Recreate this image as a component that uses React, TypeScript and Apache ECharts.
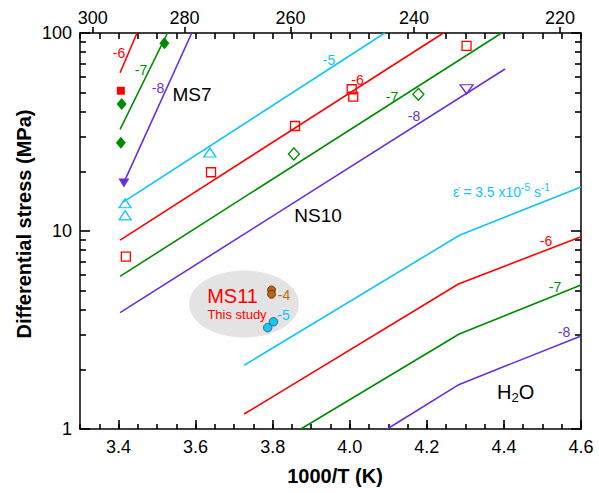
import React, { useEffect, useRef } from 'react';
import * as echarts from 'echarts';

// ---------- axes ----------
const X_MIN = 3.3;
const X_MAX = 4.6;
const xMajorTicks = [3.4, 3.6, 3.8, 4.0, 4.2, 4.4, 4.6];
const topTempsK = [300, 280, 260, 240, 220];
const Y_MIN = 1;
const Y_MAX = 100;
const yMinorTicks = [2, 3, 4, 5, 6, 7, 8, 9, 20, 30, 40, 50, 60, 70, 80, 90];

// ---------- MS7 (steep lines, filled symbols) ----------
const ms7Line6 = [[3.404, 63], [3.448, 100]];
const ms7Line7 = [[3.404, 32.6], [3.527, 100]];
const ms7Line8 = [[3.414, 17.6], [3.59, 100]];
const ms7Red = [[3.406, 51.1]];
const ms7Green = [[3.408, 43.8], [3.406, 27.9], [3.519, 88.7]];
const ms7Purple = [[3.414, 17.5]];

// ---------- NS10 ----------
const ns10Line5 = [[3.412, 14.0], [4.091, 100]];
const ns10Line6 = [[3.404, 9.0], [4.243, 100]];
const ns10Line7 = [[3.404, 5.9], [4.394, 100]];
const ns10Line8 = [[3.404, 3.87], [4.403, 65.8]];
const ns10Cyan = [[3.637, 24.9], [3.417, 13.8], [3.417, 12.0]];
const ns10Red = [[3.64, 19.8], [3.858, 33.9], [4.005, 52], [4.009, 47.7], [4.303, 86], [3.419, 7.42]];
const ns10Green = [[3.855, 24.5], [4.178, 49]];
const ns10Purple = [[4.303, 52]];

// ---------- H2O ----------
const h2oLine5 = [[3.726, 2.1], [4.286, 9.55], [4.6, 16.7]];
const h2oLine6 = [[3.726, 1.19], [4.282, 5.4], [4.6, 9.36]];
const h2oLine7 = [[3.873, 1.0], [4.284, 3.02], [4.6, 5.34]];
const h2oLine8 = [[4.097, 1.0], [4.284, 1.68], [4.6, 2.95]];

// ---------- MS11 (this study) ----------
const ms11Brown = [[3.797, 5.04], [3.797, 4.79]];
const ms11Cyan = [[3.802, 3.48], [3.787, 3.25]];

const RED = '#ff0000';
const GREEN = '#008a00';
const PURPLE = '#6a2ed8';
const CYAN = '#10c4f4';
const BROWN = '#c8680e';
const FONT = '"Liberation Sans", Arial, Helvetica, sans-serif';

const AX = { color: '#000', width: 1.5 };
const TK = { color: '#000', width: 1.6 };

function lineSeries(data: number[][], color: string) {
  return {
    type: 'line',
    data,
    showSymbol: false,
    symbol: 'none',
    lineStyle: { color, width: 1.6 },
    z: 3,
  };
}

function scatterSeries(
  data: number[][],
  symbol: string,
  size: number | number[],
  color: string,
  filled: boolean,
  rotate = 0,
  border?: string
) {
  return {
    type: 'scatter',
    data,
    symbol,
    symbolSize: size,
    symbolRotate: rotate,
    itemStyle: filled
      ? { color, borderColor: border || color, borderWidth: border ? 0.8 : 0, opacity: 1 }
      : { color: 'rgba(255,255,255,0)', borderColor: color, borderWidth: 1.3, opacity: 1 },
    z: 5,
  };
}

const textLabels = [
  { t: '-6', x: 119, y: 53, c: RED, s: 14 },
  { t: '-7', x: 141, y: 69.5, c: GREEN, s: 14 },
  { t: '-8', x: 158, y: 88, c: PURPLE, s: 14 },
  { t: 'MS7', x: 192, y: 94.5, c: '#000', s: 19 },
  { t: '-5', x: 329, y: 59.5, c: CYAN, s: 14 },
  { t: '-6', x: 357.5, y: 80, c: RED, s: 14 },
  { t: '-7', x: 392, y: 96.7, c: GREEN, s: 14 },
  { t: '-8', x: 414, y: 116, c: PURPLE, s: 14 },
  { t: 'NS10', x: 318, y: 215, c: '#000', s: 19 },
  { t: 'MS11', x: 232.5, y: 296, c: RED, s: 20 },
  { t: 'This study', x: 237, y: 314.5, c: RED, s: 13 },
  { t: '-4', x: 284, y: 294.5, c: BROWN, s: 14 },
  { t: '-5', x: 283.5, y: 314.7, c: CYAN, s: 14 },
  { t: '-6', x: 546, y: 241, c: RED, s: 14 },
  { t: '-7', x: 555, y: 287, c: GREEN, s: 14 },
  { t: '-8', x: 564, y: 331.7, c: PURPLE, s: 14 },
];

export default function App() {
  const ref = useRef<HTMLDivElement>(null);

  useEffect(() => {
    document.body.style.margin = '0';
    if (!ref.current) return;
    const chart = echarts.init(ref.current, undefined, { renderer: 'svg' });

    const xBase = {
      type: 'value',
      min: X_MIN,
      max: X_MAX,
      splitLine: { show: false },
    };
    const yBase = {
      type: 'log',
      logBase: 10,
      min: Y_MIN,
      max: Y_MAX,
      splitLine: { show: false },
      minorTick: { show: false },
    };
    // linear axis in log10 units, used only to place the minor ticks of the log scale
    const yLogUnits = {
      type: 'value',
      min: Math.log10(Y_MIN),
      max: Math.log10(Y_MAX),
      splitLine: { show: false },
    };
    const minorLog = yMinorTicks.map((v) => Math.log10(v));
    const noLine = { show: true, onZero: false, lineStyle: { color: 'rgba(0,0,0,0)', width: 0 } };

    const graphics: any[] = [
      {
        type: 'ellipse',
        shape: { cx: 244, cy: 304, rx: 55, ry: 33.5 },
        style: { fill: '#e3e3e3' },
        z: 1,
        silent: true,
      },
      ...textLabels.map((l) => ({
        type: 'text',
        x: l.x,
        y: l.y,
        z: 20,
        style: {
          text: l.t,
          fill: l.c,
          fontSize: l.s,
          fontFamily: FONT,
          align: 'center',
          verticalAlign: 'middle',
          textAlign: 'center',
          textVerticalAlign: 'middle',
        },
      })),
      {
        type: 'text',
        x: 497,
        y: 392,
        z: 20,
        style: {
          text: '{a|H}{b|2}{a|O}',
          align: 'left',
          verticalAlign: 'middle',
          textAlign: 'left',
          textVerticalAlign: 'middle',
          rich: {
            a: { fontSize: 20, fontFamily: FONT, fill: '#000' },
            b: { fontSize: 13, fontFamily: FONT, fill: '#000', padding: [10, 0, 0, 0] },
          },
        },
      },
      {
        type: 'text',
        x: 453,
        y: 192,
        z: 20,
        style: {
          text: '{e|\u03B5\u0307 = 3.5 x10}{s|-5}{e| s}{s|-1}',
          align: 'left',
          verticalAlign: 'middle',
          textAlign: 'left',
          textVerticalAlign: 'middle',
          rich: {
            e: { fontSize: 14, fontFamily: FONT, fill: CYAN },
            s: { fontSize: 10, fontFamily: FONT, fill: CYAN, padding: [0, 0, 10, 0] },
          },
        },
      },
      {
        type: 'text',
        x: 24,
        y: 224,
        rotation: Math.PI / 2,
        z: 20,
        style: {
          text: 'Differential stress (MPa)',
          fontSize: 20,
          fontWeight: 'bold',
          fontFamily: FONT,
          fill: '#000',
          align: 'center',
          verticalAlign: 'middle',
          textAlign: 'center',
          textVerticalAlign: 'middle',
        },
      },
      {
        type: 'text',
        x: 335,
        y: 476,
        z: 20,
        style: {
          text: '1000/T (K)',
          fontSize: 20,
          fontWeight: 'bold',
          fontFamily: FONT,
          fill: '#000',
          align: 'center',
          verticalAlign: 'middle',
          textAlign: 'center',
          textVerticalAlign: 'middle',
        },
      },
    ];

    const option: any = {
      animation: false,
      backgroundColor: '#fff',
      grid: {
        left: 80,
        right: 18,
        top: 33,
        bottom: 64,
        outerBoundsMode: 'none',
      },
      xAxis: [
        {
          ...xBase,
          position: 'bottom',
          axisLine: { show: true, onZero: false, lineStyle: AX },
          axisTick: { show: true, inside: true, length: 9, customValues: xMajorTicks, lineStyle: TK },
          axisLabel: {
            show: true,
            customValues: xMajorTicks,
            formatter: (v: number) => v.toFixed(1),
            fontSize: 18,
            fontFamily: FONT,
            color: '#000',
            margin: 9,
          },
        },
        {
          ...xBase,
          position: 'bottom',
          interval: 0.05,
          axisLine: noLine,
          axisTick: { show: true, inside: true, length: 5, lineStyle: TK },
          axisLabel: { show: false },
        },
        {
          ...xBase,
          position: 'top',
          axisLine: { show: true, onZero: false, lineStyle: AX },
          axisTick: {
            show: true,
            inside: false,
            length: 6,
            customValues: topTempsK.map((t) => 1000 / t),
            lineStyle: TK,
          },
          axisLabel: {
            show: true,
            customValues: topTempsK.map((t) => 1000 / t),
            formatter: (v: number) => String(Math.round(1000 / v)),
            fontSize: 18,
            fontFamily: FONT,
            color: '#000',
            margin: 6,
          },
        },
        {
          ...xBase,
          position: 'top',
          interval: 0.05,
          axisLine: noLine,
          axisTick: { show: true, inside: true, length: 6, lineStyle: TK },
          axisLabel: { show: false },
        },
      ],
      yAxis: [
        {
          ...yBase,
          position: 'left',
          axisLine: { show: true, onZero: false, lineStyle: AX },
          axisTick: { show: true, inside: true, length: 10, lineStyle: TK },
          axisLabel: {
            show: true,
            fontSize: 18,
            fontFamily: FONT,
            color: '#000',
            margin: 8,
          },
        },
        {
          ...yLogUnits,
          position: 'left',
          axisLine: noLine,
          axisTick: { show: true, inside: true, length: 6, customValues: minorLog, lineStyle: TK },
          axisLabel: { show: false },
        },
        {
          ...yBase,
          position: 'right',
          axisLine: { show: true, onZero: false, lineStyle: AX },
          axisTick: { show: true, inside: true, length: 10, lineStyle: TK },
          axisLabel: { show: false },
        },
        {
          ...yLogUnits,
          position: 'right',
          axisLine: noLine,
          axisTick: { show: true, inside: true, length: 6, customValues: minorLog, lineStyle: TK },
          axisLabel: { show: false },
        },
      ],
      series: [
        lineSeries(ms7Line6, RED),
        lineSeries(ms7Line7, GREEN),
        lineSeries(ms7Line8, PURPLE),
        lineSeries(ns10Line5, CYAN),
        lineSeries(ns10Line6, RED),
        lineSeries(ns10Line7, GREEN),
        lineSeries(ns10Line8, PURPLE),
        lineSeries(h2oLine5, CYAN),
        lineSeries(h2oLine6, RED),
        lineSeries(h2oLine7, GREEN),
        lineSeries(h2oLine8, PURPLE),
        scatterSeries(ms7Red, 'rect', 8, RED, true),
        scatterSeries(ms7Green, 'diamond', [10, 12], GREEN, true),
        scatterSeries(ms7Purple, 'triangle', [11, 9], PURPLE, true, 180),
        scatterSeries(ns10Cyan, 'triangle', [12, 9], CYAN, false),
        scatterSeries(ns10Red, 'rect', 9, RED, false),
        scatterSeries(ns10Green, 'diamond', [11, 12], GREEN, false),
        scatterSeries(ns10Purple, 'triangle', [13, 9], PURPLE, false, 180),
        scatterSeries(ms11Brown, 'circle', 8, '#c0650f', true, 0, '#4a2a0a'),
        scatterSeries(ms11Cyan, 'circle', 8.5, '#1cc4f0', true, 0, '#1d4e6a'),
      ],
      graphic: { elements: graphics },
    };

    chart.setOption(option);
    return () => {
      chart.dispose();
    };
  }, []);

  return <div ref={ref} style={{ width: 599, height: 493 }} />;
}
